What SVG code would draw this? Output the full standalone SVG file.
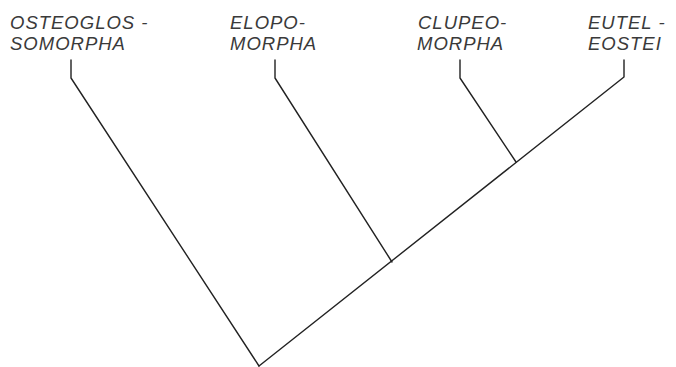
<svg xmlns="http://www.w3.org/2000/svg" width="676" height="367" viewBox="0 0 676 367">
<style>
.t{font-family:"Liberation Sans",Arial,sans-serif;font-style:italic;font-size:18.5px;letter-spacing:1px;fill:#3a3a3a}
.e{fill:none;stroke:#222;stroke-width:1.4;stroke-linejoin:round;stroke-linecap:round}
</style>
<rect width="676" height="367" fill="#fff"/>
<g id="osteoglossomorpha">
<text class="t" x="10" y="29">OSTEOGLOS -</text>
<text class="t" x="10" y="49.5">SOMORPHA</text>
</g>
<g id="elopomorpha">
<text class="t" x="230" y="29">ELOPO-</text>
<text class="t" x="230" y="49.5">MORPHA</text>
</g>
<g id="clupeomorpha">
<text class="t" x="418" y="29">CLUPEO-</text>
<text class="t" x="417" y="49.5">MORPHA</text>
</g>
<g id="euteleostei">
<text class="t" x="588" y="29">EUTEL -</text>
<text class="t" x="588" y="49.5">EOSTEI</text>
</g>
<g id="connectors">
<path class="e" d="M71 60 V78 L259 366"/>
<path class="e" d="M275 60 V78 L392 262"/>
<path class="e" d="M460 60 V78 L516 162"/>
<path class="e" d="M624 60 V77 L259 366"/>
</g>
</svg>
